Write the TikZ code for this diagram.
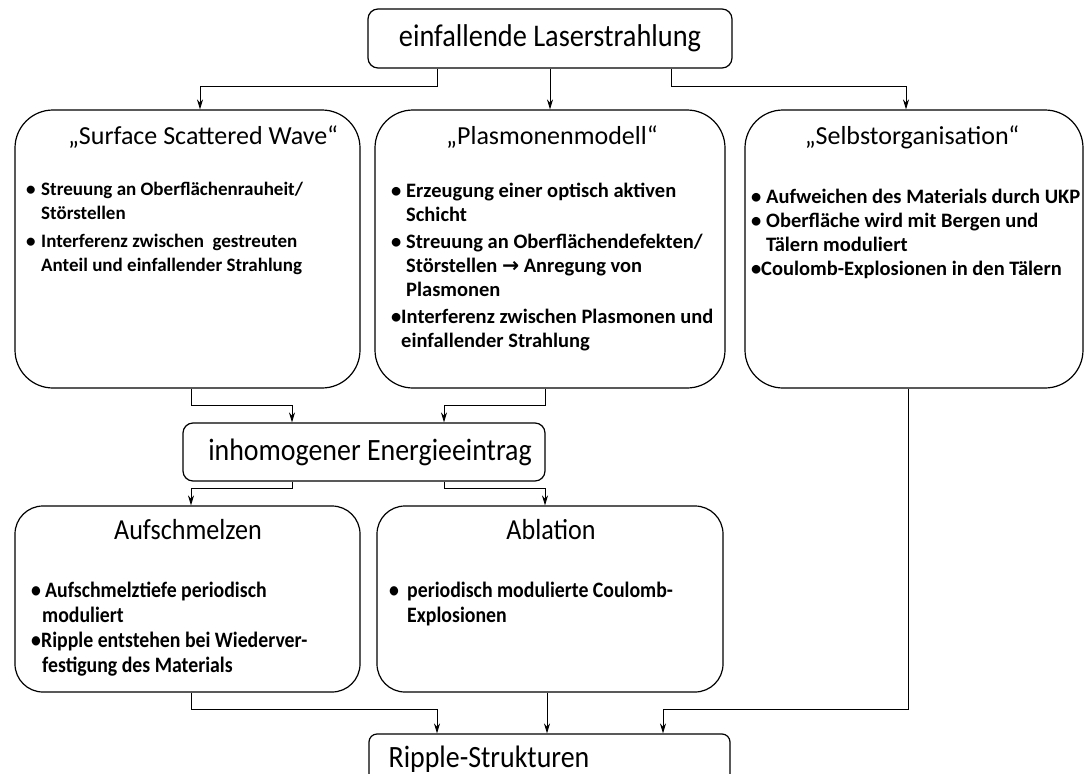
\documentclass[tikz,border=0pt]{standalone}
\usepackage{fontspec}
\setmainfont{Carlito}
\newfontfamily\narrowfont[FakeStretch=0.9]{Carlito}
\newfontfamily\symfont{DejaVu Sans}
\usetikzlibrary{arrows.meta,positioning}

\newcommand{\bul}[1][15pt]{\makebox[#1][l]{•}}
\newcommand{\firstline}{\rule{0pt}{20pt}}

\begin{document}
\begin{tikzpicture}[x=1pt, y=-1pt,
    box/.style={draw, line width=1.2pt, rounded corners=10pt, inner sep=0pt},
    bigbox/.style={box, rounded corners=38pt},
    midbox/.style={box, rounded corners=28pt},
    head/.style={font=\narrowfont\fontsize{31}{31}\selectfont},
    title/.style={inner sep=0pt, font=\fontsize{26}{26}\selectfont},
    subtitle/.style={inner sep=0pt, font=\narrowfont\fontsize{29}{29}\selectfont},
    list/.style={inner sep=0pt, align=left, anchor=north west, font=\bfseries\fontsize{19}{24}\selectfont},
    widelist/.style={list, font=\bfseries\fontsize{20.5}{24}\selectfont},
    sublist/.style={list, font=\narrowfont\bfseries\fontsize{22}{25}\selectfont},
    arr/.style={-{Stealth[length=10pt, width=6pt]}, line width=0.9pt},
  ]
  \useasboundingbox (0,0) rectangle (1085,774);

  % boxes
  \node[box, head, font=\narrowfont\fontsize{31.5}{31.5}\selectfont, minimum width=364pt, minimum height=59pt] (laser) at (550,38.5) {einfallende Laserstrahlung};
  \node[bigbox, minimum width=345pt, minimum height=278pt] (ssw) at (187.5,249) {};
  \node[bigbox, minimum width=350pt, minimum height=278pt] (plasmon) at (550,249) {};
  \node[bigbox, minimum width=338pt, minimum height=278pt] (selbst) at (914,249) {};
  \node[box, minimum width=362pt, minimum height=58pt] (energy) at (364,452) {};
  \node[midbox, minimum width=345pt, minimum height=186pt] (aufschm) at (187.5,599) {};
  \node[midbox, minimum width=346pt, minimum height=186pt] (ablation) at (550,599) {};
  \node[box, rounded corners=8pt, minimum width=361pt, minimum height=50pt] (ripple) at (549.5,759) {};

  % texts in the boxes
  \node[head, inner sep=0pt] (energytext) at (370,452) {inhomogener Energieeintrag};
  \node[head, inner sep=0pt] (rippletext) at (489,759) {Ripple-Strukturen};
  \node[title] (sswtitle) at (203,137) {„Surface Scattered Wave“};
  \node[title] (plasmontitle) at (552,137) {„Plasmonenmodell“};
  \node[title] (selbsttitle) at (912,137) {„Selbstorganisation“};
  \node[subtitle] (aufschmtitle) at (188,530) {Aufschmelzen};
  \node[subtitle] (ablationtitle) at (551,530) {Ablation};

  \node[list] (sswlist) at (26,175) {\firstline\bul Streuung an Oberflächenrauheit/\\
    \hspace*{15pt}Störstellen\\[4pt]
    \bul Interferenz zwischen\ \ gestreuten\\
    \hspace*{15pt}Anteil und einfallender Strahlung};
  \node[widelist] (plasmonlist) at (391,177) {\firstline\bul Erzeugung einer optisch aktiven\\
    \hspace*{15pt}Schicht\\[3pt]
    \bul Streuung an Oberflächendefekten/\\
    \hspace*{15pt}Störstellen {\symfont →} Anregung von\\
    \hspace*{15pt}Plasmonen\\[3pt]
    \bul[10pt]Interferenz zwischen Plasmonen und\\
    \hspace*{10pt}einfallender Strahlung};
  \node[widelist] (selbstlist) at (751,183) {\firstline\bul Aufweichen des Materials durch UKP\\
    \bul Oberfläche wird mit Bergen und\\
    \hspace*{15pt}Tälern moduliert\\
    \bul[10pt]Coulomb-Explosionen in den Tälern};
  \node[sublist] (aufschmlist) at (31,577) {\firstline\bul[14pt]Aufschmelztiefe periodisch\\
    \hspace*{11pt}moduliert\\
    \bul[10pt]Ripple entstehen bei Wiederver-\\
    \hspace*{11pt}festigung des Materials};
  \node[sublist] (ablationlist) at (389,577) {\firstline\bul[18pt]periodisch modulierte Coulomb-\\
    \hspace*{18pt}Explosionen};

  % connectors
  \draw[arr] ([xshift=-113pt]laser.south) -- ++(0,18) -| ([xshift=12.5pt]ssw.north);
  \draw[arr] (laser.south) -- (plasmon.north);
  \draw[arr] ([xshift=121pt]laser.south) -- ++(0,18) -| ([xshift=-8pt]selbst.north);
  \draw[arr] ([xshift=3.5pt]ssw.south) -- ++(0,17) -| ([xshift=-72pt]energy.north);
  \draw[arr] ([xshift=-5pt]plasmon.south) -- ++(0,17) -| ([xshift=80pt]energy.north);
  \draw[arr] ([xshift=-72pt]energy.south) -- ++(0,7) -| ([xshift=3.5pt]aufschm.north);
  \draw[arr] ([xshift=80pt]energy.south) -- ++(0,7) -| ([xshift=-5pt]ablation.north);
  \draw[arr] ([xshift=3.5pt]aufschm.south) -- ++(0,17) -| ([xshift=-112.5pt]ripple.north);
  \draw[arr] ([xshift=-3pt]ablation.south) -- ([xshift=-2.5pt]ripple.north);
  \draw[arr] ([xshift=-6pt]selbst.south) -- ++(0,321) -| ([xshift=113.5pt]ripple.north);
\end{tikzpicture}
\end{document}
